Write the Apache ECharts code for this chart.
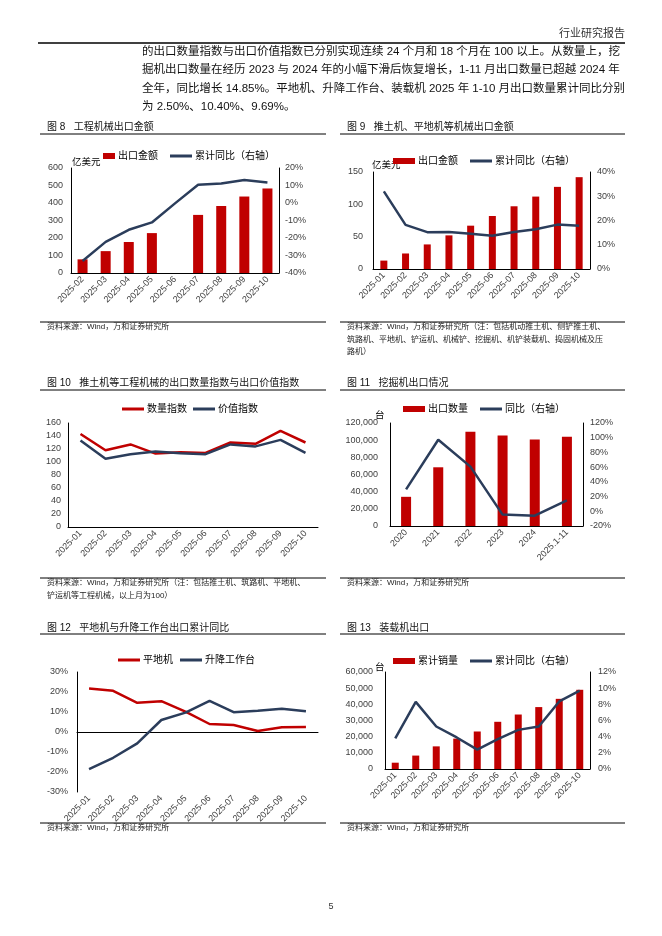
<!DOCTYPE html>
<html><head><meta charset="utf-8">
<script src="https://cdn.jsdelivr.net/npm/echarts@6/dist/echarts.min.js"></script>
<style>html,body{margin:0;padding:0;background:#fff}#c{width:662px;height:936px}</style>
</head><body><div id="c"></div><script>
// ---------- data ----------
const fig8Months = ['2025-02','2025-03','2025-04','2025-05','2025-06','2025-07','2025-08','2025-09','2025-10'];
const fig8Export = [78,125,177,228,null,332,383,437,483];          // 亿美元
const fig8Yoy    = [-33.1,-22.2,-15.3,-11.1,-0.2,10.4,11.1,13.1,11.7]; // %

const months10 = ['2025-01','2025-02','2025-03','2025-04','2025-05','2025-06','2025-07','2025-08','2025-09','2025-10'];
const fig9Export = [13,24,38,52,67,82,97,112,127,142];
const fig9Yoy    = [32,18.2,15.2,15.3,14.5,13.7,15.3,16.4,18.3,17.8];

const fig10Qty   = [143,118,127,113,115,114,130,128,148,130];
const fig10Value = [133,105,112,116,113.5,112,127,124,134,114];

const fig11Years = ['2020','2021','2022','2023','2024','2025.1-11'];
const fig11Qty   = [34000,68400,109700,105500,100700,104000];
const fig11Yoy   = [29.7,97.2,60.7,-4.5,-5.9,14.85];

const fig12Grader = [21.8,20.6,14.6,15.4,10.2,4.0,3.5,0.5,2.4,2.5];
const fig12Lift   = [-18.6,-12.9,-5.7,6.0,9.7,15.6,9.9,10.6,11.6,10.4];

const fig13Qty = [3900,8300,14000,18800,23200,29200,33700,38300,43400,49000];
const fig13Yoy = [3.8,8.3,5.26,3.9,2.4,3.7,4.84,5.26,8.36,9.69];

const paragraph = [
  '的出口数量指数与出口价值指数已分别实现连续 24 个月和 18 个月在 100 以上。从数量上，挖',
  '掘机出口数量在经历 2023 与 2024 年的小幅下滑后恢复增长，1-11 月出口数量已超越 2024 年',
  '全年，同比增长 14.85%。平地机、升降工作台、装载机 2025 年 1-10 月出口数量累计同比分别',
  '为 2.50%、10.40%、9.69%。'
];

// ---------- style ----------
const RED = '#C00000', NAVY = '#2B3D5B', LBL = '#404040';
const FONT = "'Liberation Sans','Noto Sans CJK SC',sans-serif";
const CJK = "'Liberation Sans','Noto Sans CJK SC',sans-serif";
const thousands = v => String(v).replace(/\B(?=(\d{3})+(?!\d))/g, ',');

function catAxis(grid, data, extra) {
  return Object.assign({
    type: 'category', gridIndex: grid, data: data, boundaryGap: true,
    axisLine: { show: true, onZero: true, lineStyle: { color: '#000', width: 1 } },
    axisTick: { show: false },
    splitLine: { show: false },
    axisLabel: { rotate: 45, interval: 0, fontSize: 9, color: LBL, fontFamily: FONT, margin: 5 }
  }, extra || {});
}
function valAxis(grid, min, max, interval, pos, fmt, margin) {
  return {
    type: 'value', gridIndex: grid, min: min, max: max, interval: interval, position: pos,
    axisLine: { show: true, lineStyle: { color: '#000', width: 1 } },
    axisTick: { show: false },
    splitLine: { show: false },
    axisLabel: { fontSize: 9, color: LBL, fontFamily: FONT, margin: margin, formatter: fmt }
  };
}
const pct = v => v + '%';
function bar(name, xi, yi, data, w) {
  return { type: 'bar', name: name, xAxisIndex: xi, yAxisIndex: yi, data: data, barWidth: w,
           itemStyle: { color: RED }, silent: true };
}
function line(name, xi, yi, data, color) {
  return { type: 'line', name: name, xAxisIndex: xi, yAxisIndex: yi, data: data, symbol: 'none',
           showSymbol: false,
           lineStyle: { color: color, width: 2.5 }, itemStyle: { color: color }, silent: true, z: 3 };
}
// legend for a bar (rect icon) or a line (thin bar icon)
function leg(name, left, cy, isLine, w) {
  return { data: [{ name: name, icon: 'rect' }], left: left, top: cy - 6,
           itemWidth: w || 22, itemHeight: isLine ? 3 : 6,
           padding: 0, selectedMode: false,
           textStyle: { fontSize: 10, color: '#000', fontFamily: CJK, padding: [0,0,0,-2] } };
}
function txt(x, y, s, size, extra) {
  return { type: 'text', silent: true, style: Object.assign({ x: x, y: y, text: s, fontSize: size,
           fontFamily: CJK, fill: '#222', align: 'left', verticalAlign: 'middle' }, extra || {}) };
}
function hl(x1, x2, y, w) {
  return { type: 'line', silent: true, shape: { x1: x1, y1: y, x2: x2, y2: y },
           style: { stroke: '#000', lineWidth: w || 1 } };
}

const graphics = [
  txt(625, 34, '行业研究报告', 11, { align: 'right', fill: '#333' }),
  hl(38, 625, 43, 1.5),
  txt(331, 907, '5', 9, { align: 'center', fill: '#333' })
];
paragraph.forEach((s, i) => graphics.push(txt(142, 51.5 + i * 18.6, s, 11.5, { fill: '#111' })));

// titles and rules
const titles = [
  [47, 127, '图 8   工程机械出口金额'], [347, 127, '图 9   推土机、平地机等机械出口金额'],
  [47, 383, '图 10   推土机等工程机械的出口数量指数与出口价值指数'], [347, 383, '图 11   挖掘机出口情况'],
  [47, 628, '图 12   平地机与升降工作台出口累计同比'], [347, 628, '图 13   装载机出口']
];
titles.forEach(t => graphics.push(txt(t[0], t[1], t[2], 10, { fill: '#111' })));
[134, 390, 634].forEach(y => { graphics.push(hl(40, 326, y, 1)); graphics.push(hl(340, 625, y, 1)); });
[322, 578, 823].forEach(y => { graphics.push(hl(40, 326, y, 1)); graphics.push(hl(340, 625, y, 1)); });

const sources = [
  [47, 327, '资料来源：Wind，万和证券研究所'],
  [347, 327, '资料来源：Wind，万和证券研究所（注：包括机动推土机、侧铲推土机、'],
  [347, 340, '筑路机、平地机、铲运机、机械铲、挖掘机、机铲装载机、捣固机械及压'],
  [347, 352, '路机）'],
  [47, 583, '资料来源：Wind，万和证券研究所（注：包括推土机、筑路机、平地机、'],
  [47, 596, '铲运机等工程机械，以上月为100）'],
  [347, 583, '资料来源：Wind，万和证券研究所'],
  [47, 828, '资料来源：Wind，万和证券研究所'],
  [347, 828, '资料来源：Wind，万和证券研究所']
];
sources.forEach(t => graphics.push(txt(t[0], t[1], t[2], 8, { fill: '#222' })));

// axis unit names
graphics.push(txt(72, 162, '亿美元', 9.5, { fill: '#000' }));
graphics.push(txt(372, 165, '亿美元', 9.5, { fill: '#000' }));
graphics.push(txt(375, 415, '台', 9.5, { fill: '#000' }));
graphics.push(txt(375, 667, '台', 9.5, { fill: '#000' }));

const option = {
  backgroundColor: '#fff',
  animation: false,
  textStyle: { fontFamily: FONT },
  grid: [
    { left: 71, top: 168, width: 208, height: 105 },
    { left: 373, top: 172, width: 217, height: 97 },
    { left: 68, top: 423, width: 250, height: 104 },
    { left: 390, top: 423, width: 193, height: 103 },
    { left: 77, top: 672, width: 241, height: 120 },
    { left: 385, top: 672, width: 205, height: 97 }
  ],
  xAxis: [
    catAxis(0, fig8Months),
    catAxis(1, months10),
    catAxis(2, months10),
    catAxis(3, fig11Years),
    catAxis(4, months10),
    catAxis(5, months10)
  ],
  yAxis: [
    valAxis(0, 0, 600, 100, 'left', null, 8),
    valAxis(0, -40, 20, 10, 'right', pct, 6),
    valAxis(1, 0, 150, 50, 'left', null, 10),
    valAxis(1, 0, 40, 10, 'right', pct, 7),
    valAxis(2, 0, 160, 20, 'left', null, 7),
    valAxis(3, 0, 120000, 20000, 'left', thousands, 12),
    valAxis(3, -20, 120, 20, 'right', pct, 7),
    valAxis(4, -30, 30, 10, 'left', pct, 9),
    valAxis(5, 0, 60000, 10000, 'left', thousands, 12),
    valAxis(5, 0, 12, 2, 'right', pct, 8)
  ],
  legend: [
    leg('出口金额', 103, 157, false, 12), leg('累计同比（右轴）', 170, 157, true),
    leg('出口金额 ', 393, 162, false), leg('累计同比（右轴） ', 470, 162, true),
    leg('数量指数', 122, 410, true), leg('价值指数', 193, 410, true),
    leg('出口数量', 403, 410, false), leg('同比（右轴）', 480, 410, true),
    leg('平地机', 118, 661, true), leg('升降工作台', 180, 661, true),
    leg('累计销量', 393, 662, false), leg('累计同比（右轴）  ', 470, 662, true)
  ],
  series: [
    bar('出口金额', 0, 0, fig8Export, 10),
    line('累计同比（右轴）', 0, 1, fig8Yoy, NAVY),
    bar('出口金额 ', 1, 2, fig9Export, 7),
    line('累计同比（右轴） ', 1, 3, fig9Yoy, NAVY),
    line('数量指数', 2, 4, fig10Qty, RED),
    line('价值指数', 2, 4, fig10Value, NAVY),
    bar('出口数量', 3, 5, fig11Qty, 10),
    line('同比（右轴）', 3, 6, fig11Yoy, NAVY),
    line('平地机', 4, 7, fig12Grader, RED),
    line('升降工作台', 4, 7, fig12Lift, NAVY),
    bar('累计销量', 5, 8, fig13Qty, 7),
    line('累计同比（右轴）  ', 5, 9, fig13Yoy, NAVY)
  ],
  graphic: graphics
};
const chart = echarts.init(document.getElementById('c'), null, { renderer: 'canvas' });
chart.setOption(option);
</script></body></html>
